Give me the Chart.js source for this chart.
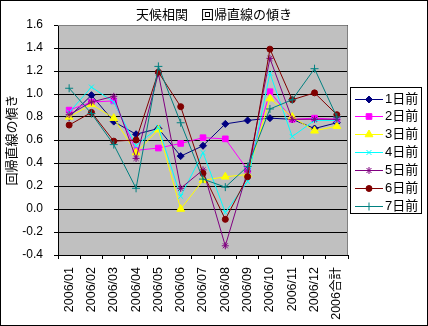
<!DOCTYPE html>
<html>
<head>
<meta charset="utf-8">
<script src="https://cdn.jsdelivr.net/npm/chart.js@4/dist/chart.umd.min.js"></script>
<style>
  html, body { margin: 0; padding: 0; background: #fff; }
  #wrap { width: 428px; height: 326px; }
</style>
</head>
<body>
<div id="wrap"><canvas id="c" width="428" height="326"></canvas></div>
<script>
// Months of 2006 plus the yearly total
const categories = ['2006/01','2006/02','2006/03','2006/04','2006/05','2006/06',
                    '2006/07','2006/08','2006/09','2006/10','2006/11','2006/12','2006合計'];

// Regression slope per lag (days before)
const lag1 = [0.80, 0.99, 0.76, 0.65, 0.70, 0.46, 0.55, 0.74, 0.77, 0.79, 0.78, 0.70, 0.75];
const lag2 = [0.86, 0.93, 0.94, 0.51, 0.53, 0.57, 0.62, 0.61, 0.34, 1.02, 0.78, 0.79, 0.78];
const lag3 = [0.80, 0.91, 0.79, 0.49, 0.69, 0.00, 0.25, 0.28, 0.30, 0.96, 0.80, 0.68, 0.72];
const lag4 = [0.84, 1.06, 0.93, 0.55, 0.71, 0.11, 0.49, -0.03, 0.24, 1.18, 0.63, 0.77, 0.77];
const lag5 = [0.82, 0.93, 0.98, 0.44, 1.18, 0.18, 0.34, -0.32, 0.33, 1.31, 0.78, 0.78, 0.78];
const lag6 = [0.73, 0.84, 0.59, 0.60, 1.19, 0.89, 0.31, -0.09, 0.28, 1.39, 0.95, 1.01, 0.82];
const lag7 = [1.05, 0.83, 0.56, 0.18, 1.24, 0.75, 0.26, 0.19, 0.37, 0.87, 0.95, 1.22, 0.80];

const seriesNames = ['1日前','2日前','3日前','4日前','5日前','6日前','7日前'];

// Y axis range and step
const yMin = -0.4, yMax = 1.6, yStep = 0.2;

const FONT = "'Liberation Sans', 'Noto Sans CJK JP', sans-serif";

const styles = [
  { color: '#000080', pointStyle: 'rectRot',  radius: 3.5 },
  { color: '#FF00FF', pointStyle: 'rect',     radius: 4 },
  { color: '#FFFF00', pointStyle: 'triangle', radius: 4.5 },
  { color: '#00FFFF', pointStyle: 'crossRot', radius: 3.5 },
  { color: '#800080', pointStyle: 'star',     radius: 3.5 },
  { color: '#800000', pointStyle: 'circle',   radius: 3 },
  { color: '#008080', pointStyle: 'cross',    radius: 4 }
];

const seriesData = [lag1, lag2, lag3, lag4, lag5, lag6, lag7];

const datasets = seriesData.map((d, i) => ({
  label: seriesNames[i],
  data: d,
  borderColor: styles[i].color,
  backgroundColor: styles[i].color,
  pointBackgroundColor: styles[i].color,
  pointBorderColor: styles[i].color,
  pointStyle: styles[i].pointStyle,
  pointRadius: styles[i].radius,
  pointBorderWidth: 1,
  borderWidth: 1,
  tension: 0,
  order: 7 - i
}));

// Grey plot area with its frame, outer chart border, title and boxed legend
const decor = {
  id: 'decor',
  beforeDraw(chart) {
    const { ctx, chartArea: a } = chart;
    ctx.save();
    ctx.fillStyle = '#C0C0C0';
    ctx.fillRect(a.left, a.top, a.right - a.left, a.bottom - a.top);
    ctx.restore();
  },
  afterDraw(chart) {
    const { ctx, chartArea: a } = chart;
    ctx.save();
    // plot frame
    ctx.strokeStyle = '#808080';
    ctx.lineWidth = 1;
    ctx.beginPath();
    ctx.moveTo(a.left, a.top + 0.5);
    ctx.lineTo(a.right - 0.5, a.top + 0.5);
    ctx.lineTo(a.right - 0.5, a.bottom);
    ctx.stroke();
    // outer border
    ctx.strokeStyle = '#000';
    ctx.strokeRect(0.5, 0.5, chart.width - 1, chart.height - 1);
    // title
    ctx.fillStyle = '#000';
    ctx.font = '13px ' + FONT;
    ctx.textAlign = 'center';
    ctx.textBaseline = 'middle';
    ctx.fillText('天候相関　回帰直線の傾き', 214, 15);
    // legend
    const lx = 350, ly = 87, lw = 71, lh = 126;
    ctx.fillStyle = '#fff';
    ctx.fillRect(lx, ly, lw, lh);
    ctx.strokeStyle = '#000';
    ctx.strokeRect(lx + 0.5, ly + 0.5, lw, lh);
    ctx.font = '13px ' + FONT;
    ctx.textAlign = 'left';
    chart.data.datasets.forEach((ds, i) => {
      const y = Math.round(98.5 + i * 17.9) + 0.5;
      ctx.strokeStyle = ds.borderColor;
      ctx.lineWidth = 1;
      ctx.beginPath();
      ctx.moveTo(355, y);
      ctx.lineTo(383, y);
      ctx.stroke();
      ctx.fillStyle = ds.pointBackgroundColor;
      ctx.strokeStyle = ds.pointBorderColor;
      Chart.helpers.drawPoint(ctx, {
        pointStyle: ds.pointStyle, radius: ds.pointRadius, rotation: 0, borderWidth: 1
      }, 369, y);
      ctx.fillStyle = '#000';
      ctx.textBaseline = 'middle';
      ctx.fillText(ds.label, 385, y);
    });
    ctx.restore();
  }
};

new Chart(document.getElementById('c'), {
  type: 'line',
  data: { labels: categories, datasets },
  plugins: [decor],
  options: {
    responsive: false,
    devicePixelRatio: 1,
    animation: false,
    layout: { padding: { top: 25, right: 80, bottom: 1, left: 3 } },
    plugins: { legend: { display: false }, tooltip: { enabled: false }, title: { display: false } },
    scales: {
      x: {
        offset: true,
        afterFit: s => { s.height = 70; },
        grid: { offset: true, drawOnChartArea: false, color: '#000', tickLength: 4, tickColor: '#000' },
        border: { color: '#000', width: 1 },
        ticks: {
          color: '#000', font: { family: FONT, size: 12.5 },
          minRotation: 90, maxRotation: 90, padding: 8, autoSkip: false
        }
      },
      y: {
        min: yMin, max: yMax,
        afterFit: s => { s.width = 55; },
        grid: { color: '#000', tickLength: 4, tickColor: '#000', lineWidth: 1 },
        border: { color: '#000', width: 1 },
        ticks: {
          stepSize: yStep, color: '#000', font: { family: FONT, size: 12 }, padding: 11,
          callback: v => (Math.abs(v) < 1e-9 ? 0 : v).toFixed(1)
        },
        title: {
          display: true, text: '回帰直線の傾き', color: '#000',
          font: { family: FONT, size: 13 }, padding: { top: 2, bottom: 0 }
        }
      }
    }
  }
});
</script>
</body>
</html>
